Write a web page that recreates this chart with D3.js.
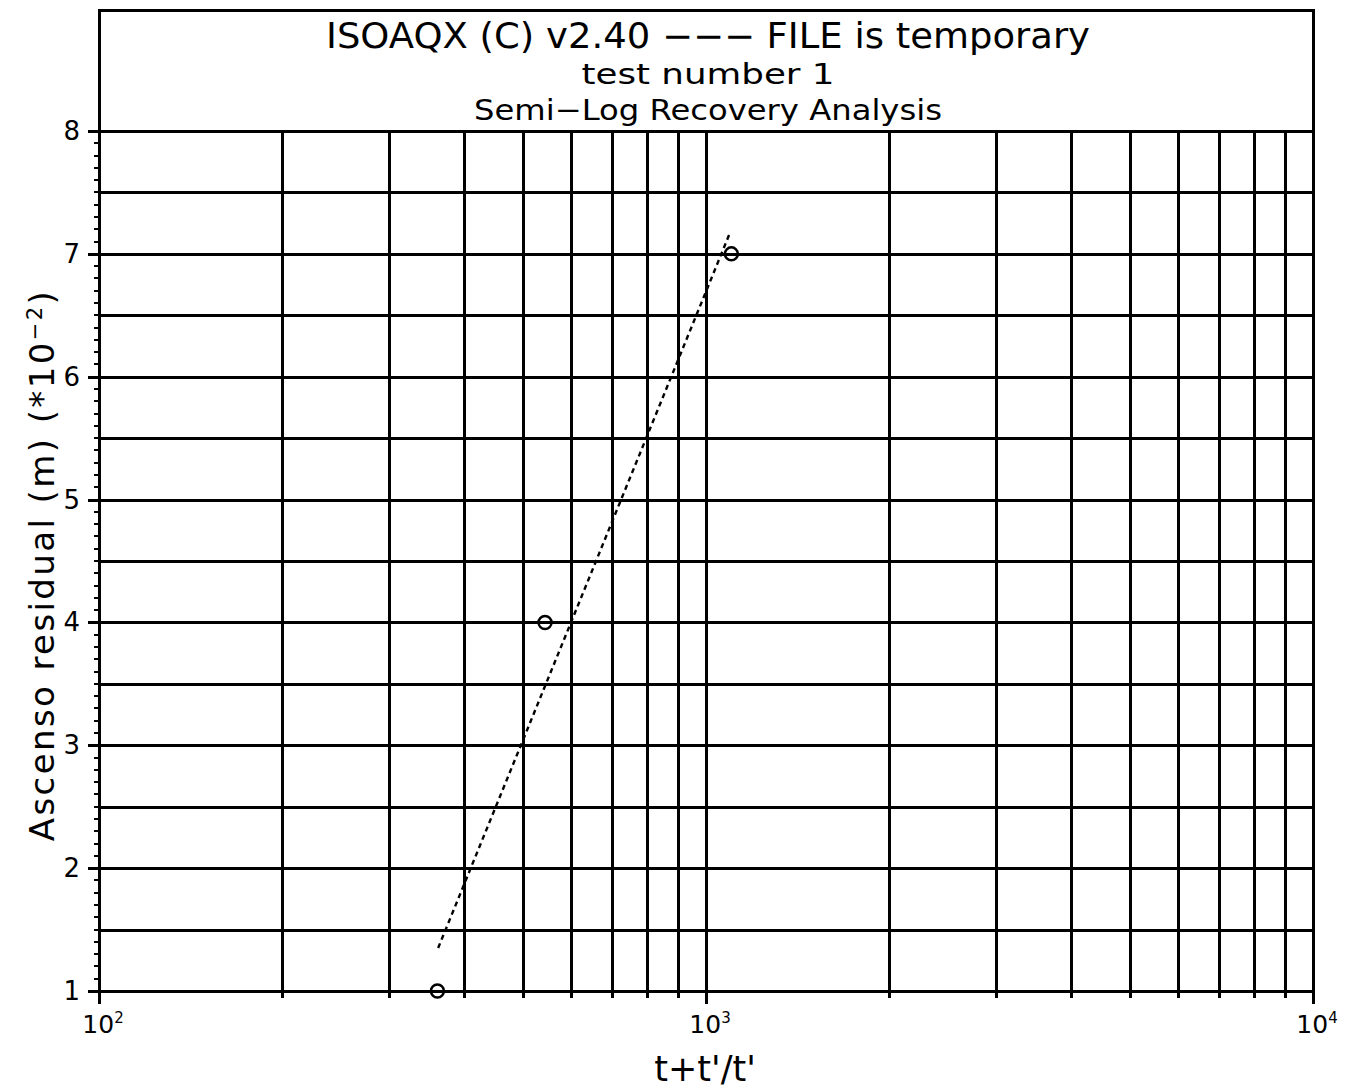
<!DOCTYPE html>
<html>
<head>
<meta charset="utf-8">
<script src="https://cdn.jsdelivr.net/npm/d3@7"></script>
<style>
  html, body { margin: 0; padding: 0; background: #fff; }
  svg { display: block; }
  text { font-family: "DejaVu Sans", "Liberation Sans", sans-serif; fill: #000; }
</style>
</head>
<body>
<svg id="chart" width="1346" height="1092"></svg>
<script>
// ---- data ----
const titleLines = ["ISOAQX (C) v2.40 \u2212\u2212\u2212 FILE is temporary", "test number 1", "Semi\u2212Log Recovery Analysis"];
const xAxisLabel = "t+t'/t'";
const yAxisLabel = "Ascenso residual (m) (*10";
const yAxisExp = "\u22122";
const xDomain = [100, 10000];
const yDomain = [1, 8];
const yTickValues = [1, 2, 3, 4, 5, 6, 7, 8];
const xDecadeTicks = [100, 1000, 10000];
const xDecadeExps = ["2", "3", "4"];
const pointX = [361, 543, 1101];
const pointY = [1.0, 4.0, 7.0];
const fitX = [362, 1097];
const fitY = [1.35, 7.18];

// ---- layout ----
const L = 99, R = 1313, T = 131, B = 991, TITLE_TOP = 10;
const svg = d3.select("#chart");
const x = d3.scaleLog().domain(xDomain).range([L, R]);
const y = d3.scaleLinear().domain(yDomain).range([B, T]);

const xGrid = [];
for (let d = 100; d < 10000; d *= 10) for (let m = 1; m <= 9; m++) xGrid.push(d * m);
xGrid.push(10000);
const yGrid = d3.range(1, 8.001, 0.5);
const yMinor = d3.range(1, 8.001, 0.1);

const g = svg.append("g").attr("shape-rendering", "crispEdges");

g.selectAll(".vg").data(xGrid).join("line")
  .attr("x1", d => Math.round(x(d))).attr("x2", d => Math.round(x(d)))
  .attr("y1", T).attr("y2", B)
  .attr("stroke", "#000").attr("stroke-width", 3);

g.selectAll(".hg").data(yGrid).join("line")
  .attr("x1", L).attr("x2", R)
  .attr("y1", d => Math.round(y(d))).attr("y2", d => Math.round(y(d)))
  .attr("stroke", "#000").attr("stroke-width", 3);

g.append("rect").attr("x", L).attr("y", TITLE_TOP).attr("width", R - L).attr("height", B - TITLE_TOP)
  .attr("fill", "none").attr("stroke", "#000").attr("stroke-width", 3);
g.append("line").attr("x1", L).attr("x2", R).attr("y1", T).attr("y2", T)
  .attr("stroke", "#000").attr("stroke-width", 3);

g.selectAll(".ymt").data(yMinor).join("line")
  .attr("x1", L - 5).attr("x2", L)
  .attr("y1", d => Math.round(y(d))).attr("y2", d => Math.round(y(d)))
  .attr("stroke", "#000").attr("stroke-width", 2);
g.selectAll(".yMt").data(yTickValues).join("line")
  .attr("x1", L - 11).attr("x2", L)
  .attr("y1", d => Math.round(y(d))).attr("y2", d => Math.round(y(d)))
  .attr("stroke", "#000").attr("stroke-width", 3);
svg.selectAll(".ytl").data(yTickValues).join("text")
  .attr("x", L - 19).attr("y", d => y(d) + 9)
  .attr("text-anchor", "end").attr("font-size", 26)
  .text(d => d);

g.selectAll(".xt").data(xGrid).join("line")
  .attr("x1", d => Math.round(x(d))).attr("x2", d => Math.round(x(d)))
  .attr("y1", B).attr("y2", d => xDecadeTicks.includes(d) ? B + 13 : B + 7)
  .attr("stroke", "#000").attr("stroke-width", 3);
const xtl = svg.selectAll(".xtl").data(xDecadeTicks).join("text")
  .attr("x", d => x(d) + 4).attr("y", B + 42)
  .attr("text-anchor", "middle").attr("font-size", 25);
xtl.append("tspan").text("10");
xtl.append("tspan").attr("dy", -10).attr("font-size", 15).text((d, i) => xDecadeExps[i]);

// fit line (dashed)
const fitData = fitX.map((v, i) => [v, fitY[i]]);
svg.append("path").datum(fitData)
  .attr("d", d3.line().x(d => x(d[0])).y(d => y(d[1])))
  .attr("fill", "none").attr("stroke", "#000").attr("stroke-width", 2.4)
  .attr("stroke-dasharray", "5,4");

// points
svg.selectAll(".pt").data(pointX.map((v, i) => [v, pointY[i]])).join("circle")
  .attr("cx", d => x(d[0])).attr("cy", d => y(d[1])).attr("r", 6.5)
  .attr("fill", "none").attr("stroke", "#000").attr("stroke-width", 2.5);

// titles
const titleY = [48, 84, 120];
const titleSize = [35, 29, 29];
const titleLen = [764, 253, 468];
titleLines.forEach((t, i) => {
  svg.append("text").attr("x", 708).attr("y", titleY[i])
    .attr("text-anchor", "middle").attr("font-size", titleSize[i])
    .attr("textLength", titleLen[i]).attr("lengthAdjust", "spacingAndGlyphs")
    .text(t);
});

// x axis label
svg.append("text").attr("x", 705).attr("y", 1081)
  .attr("text-anchor", "middle").attr("font-size", 35)
  .text(xAxisLabel);

// y axis label
const yl = svg.append("text")
  .attr("transform", "translate(54,565) rotate(-90)")
  .attr("text-anchor", "middle").attr("font-size", 34)
  .attr("letter-spacing", 2.4);
yl.append("tspan").text(yAxisLabel);
yl.append("tspan").attr("dy", -12).attr("font-size", 21).text(yAxisExp);
yl.append("tspan").attr("dy", 12).text(")");
</script>
</body>
</html>
